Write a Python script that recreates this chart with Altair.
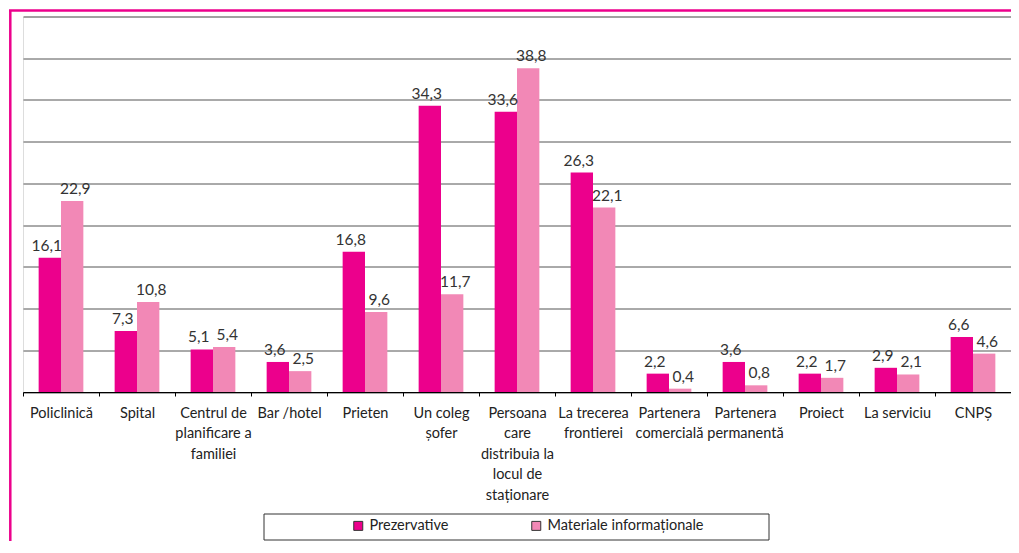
import altair as alt
import pandas as pd

categories = [
    "Policlinică", "Spital", "Centrul de\nplanificare a\nfamiliei", "Bar /hotel",
    "Prieten", "Un coleg\nșofer", "Persoana\ncare\ndistribuia la\nlocul de\nstaționare",
    "La trecerea\nfrontierei", "Partenera\ncomercială", "Partenera\npermanentă",
    "Proiect", "La serviciu", "CNPȘ",
]
series = ["Prezervative", "Materiale informaționale"]
prezervative = [16.1, 7.3, 5.1, 3.6, 16.8, 34.3, 33.6, 26.3, 2.2, 3.6, 2.2, 2.9, 6.6]
materiale = [22.9, 10.8, 5.4, 2.5, 9.6, 11.7, 38.8, 22.1, 0.4, 0.8, 1.7, 2.1, 4.6]
colors = ["#EC008C", "#F288B6"]
grid_values = [0, 5, 10, 15, 20, 25, 30, 35, 40, 45]

rows = []
for c, a, b in zip(categories, prezervative, materiale):
    rows.append({"cat": c, "series": series[0], "value": a})
    rows.append({"cat": c, "series": series[1], "value": b})
df = pd.DataFrame(rows)

FONT = "Lato"
W, H = 988, 375.5

x_enc = alt.X("cat:N", sort=categories, title=None,
              scale=alt.Scale(paddingInner=0, paddingOuter=0),
              axis=alt.Axis(labelAngle=0, labelExpr="split(datum.label, '\\n')",
                            labelFontSize=14.5, labelFont=FONT, labelColor="#222",
                            labelLineHeight=20.5, labelPadding=10, labelBaseline="top",
                            tickBand="extent", tickSize=4, tickColor="#000",
                            domainColor="#000", domainWidth=1.2, labelLimit=200,
                            grid=False))
xo_enc = alt.XOffset("series:N", sort=series,
                     scale=alt.Scale(paddingInner=0, paddingOuter=0.7))
y_enc = alt.Y("value:Q", title=None,
              scale=alt.Scale(domain=[0, 45], nice=False),
              axis=alt.Axis(values=grid_values, grid=True, gridColor="#555",
                            gridWidth=1, domain=False, ticks=False, labels=False))

base = alt.Chart(df)

bars = base.mark_bar().encode(
    x=x_enc, xOffset=xo_enc, y=y_enc,
    color=alt.Color("series:N", sort=series,
                    scale=alt.Scale(domain=series, range=colors),
                    legend=alt.Legend(orient="none", legendX=328, legendY=502,
                                      direction="horizontal", title=None,
                                      symbolType="square", symbolSize=81,
                                      symbolStrokeColor="#333", symbolStrokeWidth=1,
                                      labelFontSize=14.5, labelFont=FONT,
                                      labelColor="#222", columnPadding=80)),
)

def label_layer(s, dx):
    return base.mark_text(fontSize=15.5, font=FONT, color="#333", baseline="alphabetic",
                          dy=-7, dx=dx).transform_filter(
        alt.datum.series == s
    ).transform_calculate(
        lbl="replace(format(datum.value, '.1f'), '.', ',')"
    ).encode(x=x_enc, xOffset=xo_enc, y=y_enc, text="lbl:N")

labels_a = label_layer(series[0], -3)
labels_b = label_layer(series[1], 3)

one = alt.Data(values=[{}])
legend_box = alt.Chart(one).mark_rect(fill="white", stroke="#333", strokeWidth=1).encode(
    x=alt.value(241), x2=alt.value(746), y=alt.value(497.5), y2=alt.value(523.5))
border_left = alt.Chart(one).mark_rule(color="#EC008C", strokeWidth=2.5).encode(
    x=alt.value(-12.7), y=alt.value(-6), y2=alt.value(545))
border_top = alt.Chart(one).mark_rule(color="#EC008C", strokeWidth=2.5).encode(
    x=alt.value(-14), x2=alt.value(1000), y=alt.value(-6))

chart = alt.layer(legend_box, border_left, border_top, bars, labels_a, labels_b).properties(
    width=W, height=H,
    autosize=alt.AutoSizeParams(type="none"),
    padding={"left": 15, "top": 8.5, "right": 0, "bottom": 149},
).configure_view(stroke=None).configure(background="white")

chart.save("out.html", embed_options={"renderer": "svg", "actions": False})
